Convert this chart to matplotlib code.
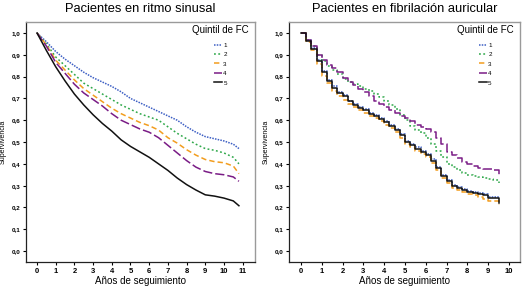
import matplotlib
matplotlib.use("Agg")
import matplotlib.pyplot as plt
from matplotlib.lines import Line2D

plt.rcParams['font.family'] = ['Liberation Sans', 'DejaVu Sans']

# ritmo sinusal (años, supervivencia)
t_rs = [0, 0.5, 1, 1.5, 2, 2.5, 3, 3.5, 4, 4.5, 5, 5.5, 6, 6.5, 7, 7.5, 8, 8.5,
        9, 9.5, 10, 10.5, 10.8]
rs_q1 = [1.0, 0.96, 0.915, 0.88, 0.85, 0.82, 0.795, 0.775, 0.755, 0.73, 0.70,
         0.68, 0.66, 0.64, 0.62, 0.60, 0.57, 0.545, 0.525, 0.515, 0.505, 0.49, 0.47]
rs_q2 = [1.0, 0.95, 0.89, 0.85, 0.81, 0.77, 0.745, 0.72, 0.695, 0.67, 0.65,
         0.63, 0.615, 0.60, 0.57, 0.54, 0.515, 0.49, 0.47, 0.462, 0.45, 0.43, 0.40]
rs_q3 = [1.0, 0.945, 0.875, 0.83, 0.785, 0.745, 0.715, 0.685, 0.655, 0.63, 0.61,
         0.59, 0.575, 0.555, 0.52, 0.495, 0.465, 0.44, 0.42, 0.41, 0.405, 0.39, 0.355]
rs_q4 = [1.0, 0.94, 0.865, 0.815, 0.765, 0.725, 0.695, 0.665, 0.63, 0.60, 0.58,
         0.56, 0.545, 0.52, 0.485, 0.45, 0.415, 0.385, 0.365, 0.355, 0.35, 0.34, 0.32]
rs_q5 = [1.0, 0.92, 0.845, 0.78, 0.72, 0.67, 0.625, 0.585, 0.55, 0.51, 0.48,
         0.455, 0.43, 0.40, 0.37, 0.335, 0.305, 0.28, 0.258, 0.252, 0.243, 0.23, 0.208]

# fibrilación auricular
t_fa = [0, 0.25, 0.5, 0.75, 1, 1.25, 1.5, 1.75, 2, 2.25, 2.5, 2.75, 3, 3.25, 3.5,
        3.75, 4, 4.25, 4.5, 4.75, 5, 5.25, 5.5, 5.75, 6, 6.25, 6.5, 6.75, 7,
        7.25, 7.5, 7.75, 8, 8.25, 8.5, 8.75, 9, 9.25, 9.5]
fa_q1 = [1.0, 0.97, 0.93, 0.875, 0.825, 0.785, 0.755, 0.73, 0.715, 0.69, 0.675,
         0.66, 0.65, 0.635, 0.625, 0.61, 0.595, 0.58, 0.56, 0.535, 0.505, 0.49,
         0.475, 0.46, 0.445, 0.42, 0.385, 0.35, 0.325, 0.305, 0.295, 0.285, 0.275,
         0.27, 0.265, 0.26, 0.25, 0.25, 0.245]
fa_q2 = [1.0, 0.97, 0.94, 0.9, 0.87, 0.85, 0.83, 0.81, 0.79, 0.775, 0.765, 0.755,
         0.745, 0.735, 0.72, 0.705, 0.69, 0.67, 0.65, 0.625, 0.60, 0.575, 0.555,
         0.54, 0.52, 0.49, 0.46, 0.43, 0.40, 0.385, 0.37, 0.36, 0.35, 0.345, 0.34,
         0.335, 0.33, 0.325, 0.31]
fa_q3 = [1.0, 0.96, 0.92, 0.86, 0.805, 0.77, 0.735, 0.71, 0.695, 0.675, 0.66,
         0.645, 0.635, 0.62, 0.61, 0.595, 0.58, 0.565, 0.545, 0.52, 0.49, 0.475,
         0.46, 0.445, 0.43, 0.405, 0.37, 0.335, 0.31, 0.29, 0.28, 0.27, 0.26,
         0.255, 0.25, 0.24, 0.23, 0.23, 0.21]
fa_q4 = [1.0, 0.97, 0.94, 0.9, 0.875, 0.855, 0.84, 0.82, 0.795, 0.775, 0.76,
         0.745, 0.73, 0.71, 0.69, 0.675, 0.66, 0.645, 0.635, 0.62, 0.61, 0.595,
         0.58, 0.57, 0.56, 0.545, 0.52, 0.49, 0.455, 0.44, 0.425, 0.41, 0.40,
         0.39, 0.38, 0.375, 0.375, 0.37, 0.35]
fa_q5 = [1.0, 0.965, 0.925, 0.87, 0.82, 0.78, 0.75, 0.725, 0.71, 0.69, 0.67,
         0.655, 0.645, 0.63, 0.62, 0.605, 0.59, 0.575, 0.555, 0.53, 0.50, 0.485,
         0.47, 0.455, 0.44, 0.415, 0.38, 0.345, 0.32, 0.30, 0.29, 0.28, 0.27,
         0.265, 0.26, 0.255, 0.245, 0.245, 0.22]

quintiles = ['1', '2', '3', '4', '5']
colors = ['#3d5fc4', '#2fa84a', '#f29d1e', '#7a1c86', '#111111']
styles = [(0, (1, 0.8)), (0, (1.2, 1.6)), (0, (3.5, 2)), (0, (6, 2)), '-']

y_ticks = [0.0, 0.1, 0.2, 0.3, 0.4, 0.5, 0.6, 0.7, 0.8, 0.9, 1.0]
y_labels = [f'{v:.1f}'.replace('.', ',') for v in y_ticks]

fig = plt.figure(figsize=(5.22, 2.88), dpi=100)
ax1 = fig.add_axes([0.0498, 0.0903, 0.4387, 0.833])
ax2 = fig.add_axes([0.5536, 0.0903, 0.4425, 0.833])

panels = [
    (ax1, t_rs, [rs_q1, rs_q2, rs_q3, rs_q4, rs_q5], 'Pacientes en ritmo sinusal',
     list(range(12)), (-0.59, 11.66), 'default'),
    (ax2, t_fa, [fa_q1, fa_q2, fa_q3, fa_q4, fa_q5], 'Pacientes en fibrilación auricular',
     list(range(11)), (-0.58, 10.53), 'steps-post'),
]

for ax, t, series, title, xt, xl, ds in panels:
    for vals, c, ls in zip(series, colors, styles):
        ax.plot(t, vals, color=c, linestyle=ls, linewidth=1.1, drawstyle=ds)
    ax.set_xlim(*xl)
    ax.set_ylim(-0.05, 1.05)
    ax.set_xticks(xt)
    ax.set_xticklabels([str(v) for v in xt], fontsize=5.5, fontweight='bold')
    ax.set_yticks(y_ticks)
    ax.set_yticklabels(y_labels, fontsize=4.5, fontweight='bold')
    ax.tick_params(direction='out', length=2.5, width=0.8, pad=1.5)
    for s in ['top', 'right']:
        ax.spines[s].set_color('#9a9a9a')
        ax.spines[s].set_linewidth(1.0)
    for s in ['left', 'bottom']:
        ax.spines[s].set_color('#222222')
        ax.spines[s].set_linewidth(0.9)
    ax.set_title(title, fontsize=9.3, pad=7)
    ax.set_xlabel('Años de seguimiento', fontsize=7, labelpad=1)
    ax.set_ylabel('Supervivencia', fontsize=5)
    ax.yaxis.set_label_coords(-0.085, 0.5)

    handles = [Line2D([0], [0], color=c, linestyle=ls, linewidth=1.1)
               for c, ls in zip(colors, styles)]
    leg = ax.legend(handles, quintiles, title='Quintil de FC', loc='upper right',
                    fontsize=4.5, title_fontsize=7, frameon=False,
                    handlelength=1.3, handletextpad=0.15, labelspacing=0.65,
                    borderaxespad=0.4, borderpad=0.6)
    leg.get_title().set_position((0, 3))

fig.savefig('out.png', dpi=100)
